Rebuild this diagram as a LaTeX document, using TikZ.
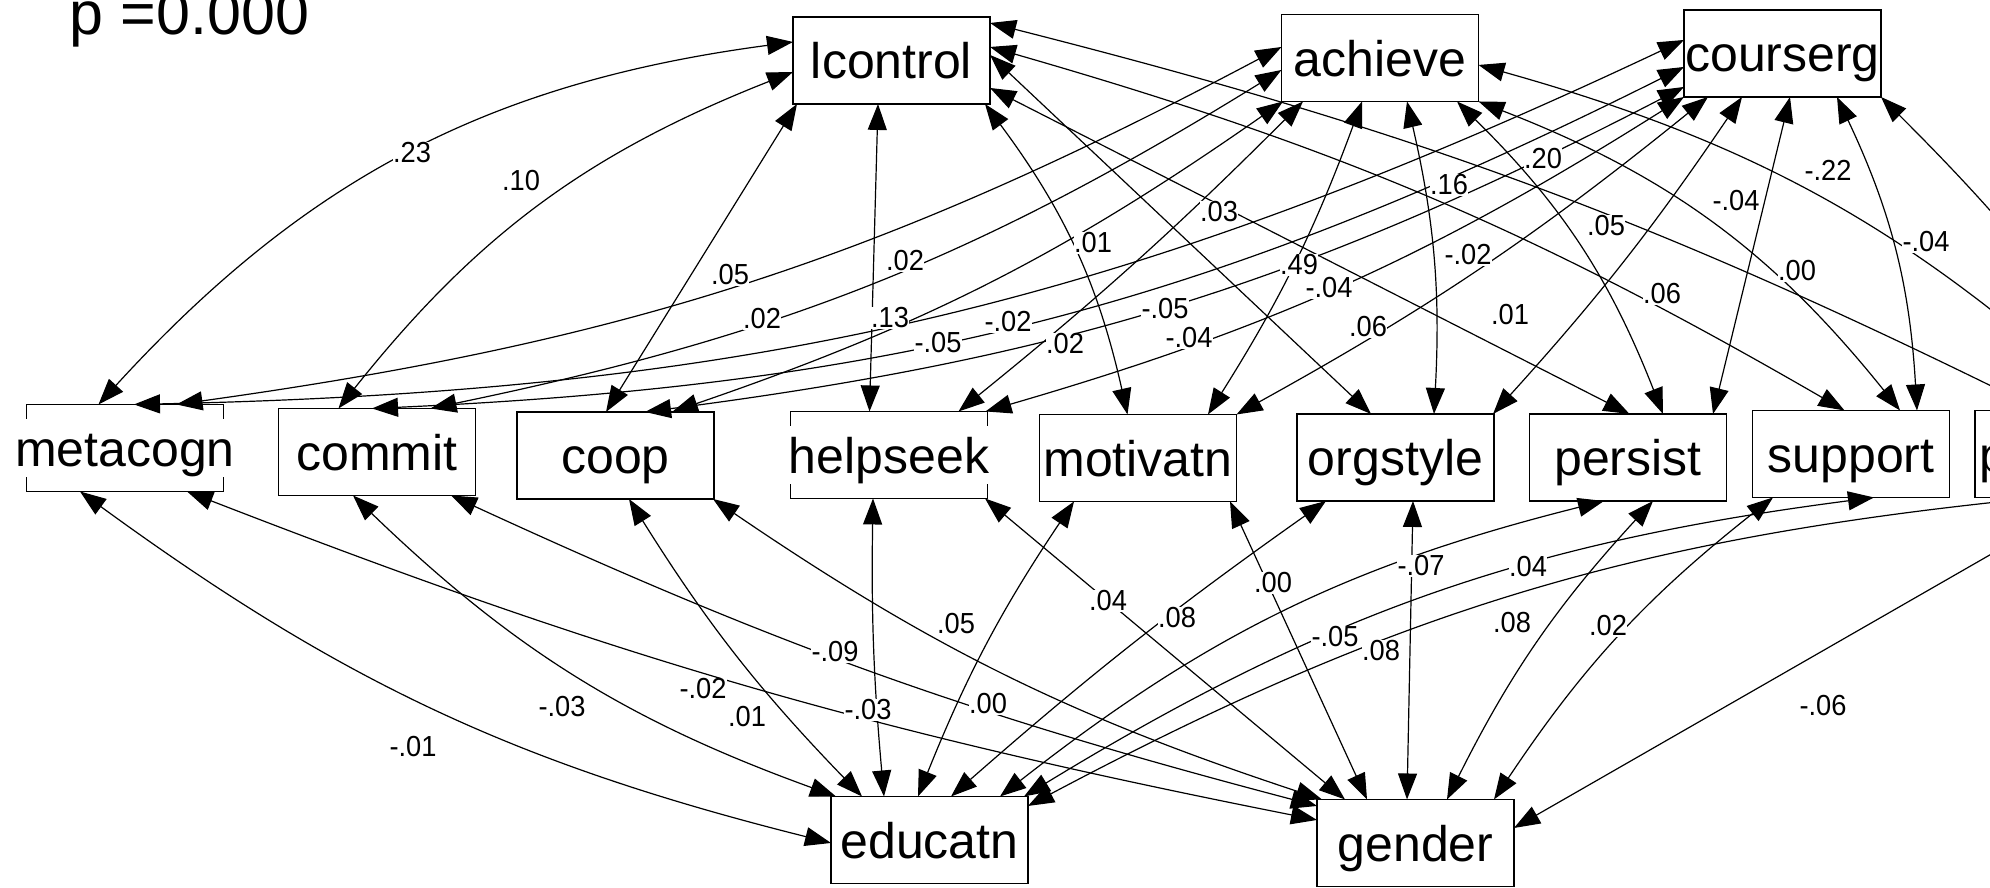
\documentclass[tikz,border=0pt]{standalone}
\usepackage{fontspec}
\setmainfont{Liberation Sans}
\usepackage{graphicx}
\usetikzlibrary{arrows.meta}
\setlength{\fboxsep}{0pt}
\newcommand{\bt}[1]{\makebox[0pt]{\colorbox{white}{\rule[-1pt]{0pt}{5.7pt}#1}}}
\newcommand{\lb}[1]{\scalebox{0.94}[1]{#1}}
\tikzset{
 box/.style={draw, line width=0.15pt, rectangle, minimum width=19.7pt, minimum height=8.7pt, inner sep=0pt, outer sep=0pt, font=\fontsize{5}{6}\selectfont},
 cov/.style={{Triangle[length=2.6pt,width=1.9pt]}-{Triangle[length=2.6pt,width=1.9pt]}, line width=0.12pt},
 val/.style={fill=white, inner sep=0.05pt, font=\fontsize{2.9}{3.4}\selectfont},
}
\begin{document}
\begin{tikzpicture}[x=0.1pt,y=-0.1pt]
\useasboundingbox (0,0) rectangle (1990,888);
\fill[white] (0,0) rectangle (1990,888);
\node[anchor=base west, inner sep=0pt, font=\fontsize{6.1}{7}\selectfont] (title) at (68,35) {p =0.000};
% top row
\node[box] (L) at (891.5,60.5) {\bt{lcontrol}};
\node[box] (A) at (1380,58) {\bt{achieve}};
\node[box] (C) at (1782.5,53.5) {\bt{courserg}};
% middle row
\node[box] (M) at (125,448) {\bt{metacogn}};
\node[box] (Co) at (377,452) {\bt{commit}};
\node[box] (Cp) at (615.5,455.5) {\bt{coop}};
\node[box] (H) at (889,455) {\bt{helpseek}};
\node[box] (Mo) at (1138,458) {\bt{motivatn}};
\node[box] (O) at (1395.5,457.5) {\bt{orgstyle}};
\node[box] (P) at (1628,457.5) {\bt{persist}};
\node[box] (S) at (1851,454) {\bt{support}};
\node[box] (X) at (2073.5,454) {};
\node[anchor=base west, fill=white, inner sep=0pt, font=\fontsize{5}{6}\selectfont] (Xt) at (1977,472.5) {p};
% bottom row
\node[box] (E) at (929.5,840) {\bt{educatn}};
\node[box] (G) at (1415.5,843) {\bt{gender}};
% lcontrol
\draw[cov] ([shift={(0,25)}]L.north west) to[bend right=20] ([shift={(72,0)}]M.north west);
\draw[cov] ([shift={(0,55)}]L.north west) to[bend right=15] ([shift={(60,0)}]Co.north west);
\draw[cov] ([shift={(4,87)}]L.north west) -- ([shift={(89,0)}]Cp.north west);
\draw[cov] ([shift={(85,87)}]L.north west) -- ([shift={(79,0)}]H.north west);
\draw[cov] ([shift={(192,87)}]L.north west) to[bend left=12] ([shift={(88,0)}]Mo.north west);
\draw[cov] ([shift={(197,6)}]L.north west) to[bend left=6] ([shift={(66,0)}]X.north west);
\draw[cov] ([shift={(197,30)}]L.north west) to[bend left=7] ([shift={(92,0)}]S.north west);
\draw[cov] ([shift={(197,38)}]L.north west) -- ([shift={(74,0)}]O.north west);
\draw[cov] ([shift={(197,71)}]L.north west) -- ([shift={(100,0)}]P.north west);
% achieve
\draw[cov] ([shift={(0,32.5)}]A.north west) to[bend left=10] ([shift={(150,0)}]M.north west);
\draw[cov] ([shift={(0,55.5)}]A.north west) to[bend left=10] ([shift={(152,0)}]Co.north west);
\draw[cov] ([shift={(1.5,87)}]A.north west) to[bend left=8] ([shift={(155,0)}]Cp.north west);
\draw[cov] ([shift={(21.5,87)}]A.north west) to[bend left=3] ([shift={(168,0)}]H.north west);
\draw[cov] ([shift={(80.5,87)}]A.north west) to[bend left=6] ([shift={(168.5,0)}]Mo.north west);
\draw[cov] ([shift={(125.5,87)}]A.north west) to[bend left=8] ([shift={(137,0)}]O.north west);
\draw[cov] ([shift={(175.5,87)}]A.north west) to[bend left=12] ([shift={(133.5,0)}]P.north west);
\draw[cov] ([shift={(197,87)}]A.north west) to[bend left=15] ([shift={(147.5,0)}]S.north west);
\draw[cov] ([shift={(197,50.5)}]A.north west) to[bend left=13] ([shift={(135,0)}]X.north west);
% courserg
\draw[cov] ([shift={(0,30)}]C.north west) to[bend left=12] ([shift={(107.5,0)}]M.north west);
\draw[cov] ([shift={(0,57)}]C.north west) to[bend left=12] ([shift={(93.5,0)}]Co.north west);
\draw[cov] ([shift={(0,77)}]C.north west) to[bend left=10] ([shift={(128,0)}]Cp.north west);
\draw[cov] ([shift={(0,87)}]C.north west) to[bend left=8] ([shift={(195,0)}]H.north west);
\draw[cov] ([shift={(24,87)}]C.north west) to[bend left=5] ([shift={(197,0)}]Mo.north west);
\draw[cov] ([shift={(58,87)}]C.north west) to[bend left=4] ([shift={(196,0)}]O.north west);
\draw[cov] ([shift={(106,87)}]C.north west) -- ([shift={(183.5,0)}]P.north west);
\draw[cov] ([shift={(153,87)}]C.north west) to[bend left=11] ([shift={(164.5,0)}]S.north west);
\draw[cov] ([shift={(197,87)}]C.north west) to[bend left=5] ([shift={(170,0)}]X.north west);
% educatn
\draw[cov] ([shift={(53.5,87)}]M.north west) to[bend right=11] ([shift={(0,46.5)}]E.north west);
\draw[cov] ([shift={(74.5,87)}]Co.north west) to[bend right=12] ([shift={(5,0)}]E.north west);
\draw[cov] ([shift={(112,87)}]Cp.north west) to[bend right=6] ([shift={(31,0)}]E.north west);
\draw[cov] ([shift={(82.5,87)}]H.north west) to[bend right=3] ([shift={(53,0)}]E.north west);
\draw[cov] ([shift={(34.5,87)}]Mo.north west) to[bend right=6] ([shift={(87,0)}]E.north west);
\draw[cov] ([shift={(29,87)}]O.north west) to[bend right=3] ([shift={(120,0)}]E.north west);
\draw[cov] ([shift={(74.5,87)}]P.north west) to[bend right=12] ([shift={(169,0)}]E.north west);
\draw[cov] ([shift={(121.5,87)}]S.north west) to[bend right=12] ([shift={(193,0)}]E.north west);
\draw[cov] ([shift={(65,87)}]X.north west) to[bend right=11] ([shift={(197,9.5)}]E.north west);
% gender
\draw[cov] ([shift={(160.5,87)}]M.north west) to[bend right=5] ([shift={(0,20.5)}]G.north west);
\draw[cov] ([shift={(172.5,87)}]Co.north west) to[bend right=5] ([shift={(0,6.5)}]G.north west);
\draw[cov] ([shift={(196,87)}]Cp.north west) to[bend right=8] ([shift={(5,0)}]G.north west);
\draw[cov] ([shift={(194.5,87)}]H.north west) -- ([shift={(28,0)}]G.north west);
\draw[cov] ([shift={(190.5,87)}]Mo.north west) -- ([shift={(50,0)}]G.north west);
\draw[cov] ([shift={(116,87)}]O.north west) -- ([shift={(90,0)}]G.north west);
\draw[cov] ([shift={(123.5,87)}]P.north west) to[bend right=8] ([shift={(130,0)}]G.north west);
\draw[cov] ([shift={(20.5,87)}]S.north west) to[bend right=9] ([shift={(177,0)}]G.north west);
\draw[cov] ([shift={(115,87)}]X.north west) -- ([shift={(197,28.5)}]G.north west);
% labels top
\node[val] (v1) at (412,153) {\lb{.23}};
\node[val] (v2) at (521,181) {\lb{.10}};
\node[val] (v3) at (730,275) {\lb{.05}};
\node[val] (v4) at (905,261) {\lb{.02}};
\node[val] (v5) at (762,319) {\lb{.02}};
\node[val] (v6) at (890,318) {\lb{.13}};
\node[val] (v7) at (938,343) {\lb{-.05}};
\node[val] (v8) at (1008,322) {\lb{-.02}};
\node[val] (v9) at (1065,344) {\lb{.02}};
\node[val] (v10) at (1093,243) {\lb{.01}};
\node[val] (v11) at (1219,212) {\lb{.03}};
\node[val] (v12) at (1165,309) {\lb{-.05}};
\node[val] (v13) at (1189,338) {\lb{-.04}};
\node[val] (v14) at (1299,265) {\lb{.49}};
\node[val] (v15) at (1329,288) {\lb{-.04}};
\node[val] (v16) at (1368,327) {\lb{.06}};
\node[val] (v17) at (1449,185) {\lb{.16}};
\node[val] (v18) at (1468,255) {\lb{-.02}};
\node[val] (v19) at (1543,159) {\lb{.20}};
\node[val] (v20) at (1510,315) {\lb{.01}};
\node[val] (v21) at (1606,226) {\lb{.05}};
\node[val] (v22) at (1662,294) {\lb{.06}};
\node[val] (v23) at (1736,201) {\lb{-.04}};
\node[val] (v24) at (1797,271) {\lb{.00}};
\node[val] (v25) at (1828,170) {\lb{-.22}};
\node[val] (v26) at (1926,242) {\lb{-.04}};
% labels bottom
\node[val] (w1) at (413,747) {\lb{-.01}};
\node[val] (w2) at (562,707) {\lb{-.03}};
\node[val] (w3) at (703,689) {\lb{-.02}};
\node[val] (w4) at (747,717) {\lb{.01}};
\node[val] (w5) at (835,652) {\lb{-.09}};
\node[val] (w6) at (868,710) {\lb{-.03}};
\node[val] (w7) at (956,624) {\lb{.05}};
\node[val] (w8) at (988,704) {\lb{.00}};
\node[val] (w9) at (1108,601) {\lb{.04}};
\node[val] (w10) at (1177,618) {\lb{.08}};
\node[val] (w11) at (1273,583) {\lb{.00}};
\node[val] (w12) at (1335,637) {\lb{-.05}};
\node[val] (w13) at (1421,566) {\lb{-.07}};
\node[val] (w14) at (1528,567) {\lb{.04}};
\node[val] (w15) at (1381,651) {\lb{.08}};
\node[val] (w16) at (1512,623) {\lb{.08}};
\node[val] (w17) at (1608,626) {\lb{.02}};
\node[val] (w18) at (1823,706) {\lb{-.06}};
\end{tikzpicture}
\end{document}
